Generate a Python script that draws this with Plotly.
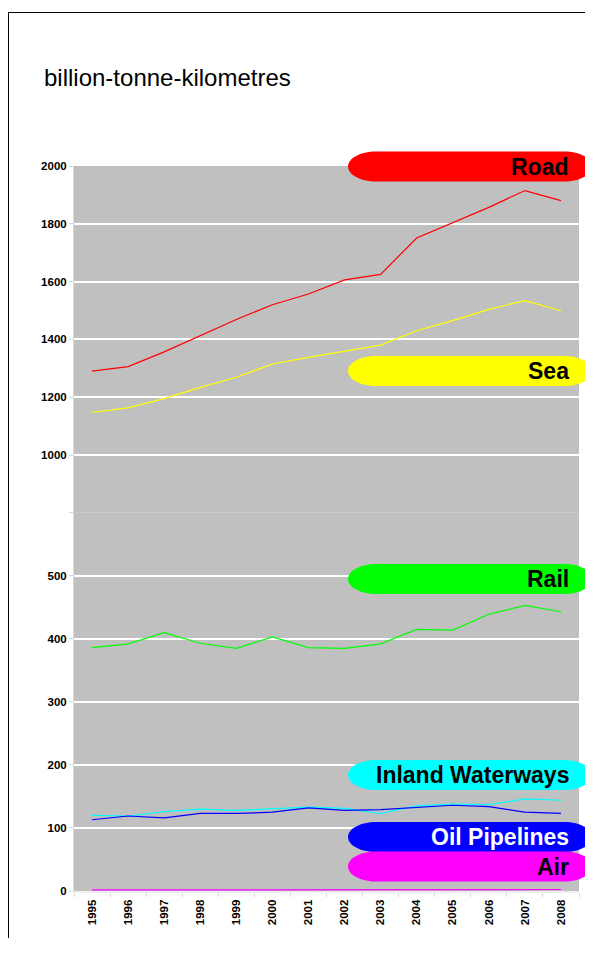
import plotly.graph_objects as go

years = [str(y) for y in range(1995, 2009)]
road = [1290, 1306, 1357, 1412, 1469, 1520, 1557, 1606, 1625, 1751, 1804, 1857, 1915, 1880]
sea = [1147, 1163, 1195, 1234, 1269, 1315, 1338, 1359, 1380, 1430, 1465, 1504, 1534, 1499]
rail = [386, 392, 410, 393, 385, 403, 386, 385, 392, 415, 414, 439, 453, 443]
inland = [120, 119, 126, 130, 128, 131, 133, 131, 123, 135, 138, 137, 146, 144]
oil = [113, 119, 116, 123, 123, 125, 132, 128, 129, 132, 136, 134, 125, 123]
air = [1.7, 1.8, 1.9, 2.0, 2.0, 2.1, 2.0, 2.0, 2.1, 2.2, 2.4, 2.5, 2.6, 2.4]

top_ticks = [800, 1000, 1200, 1400, 1600, 1800, 2000]
top_labels = ["", "1000", "1200", "1400", "1600", "1800", "2000"]
bot_ticks = [0, 100, 200, 300, 400, 500, 600]
bot_labels = ["0", "100", "200", "300", "400", "500", ""]

badges = [
    ("Road", "#ff0000", "black", 166.5),
    ("Sea", "#ffff00", "black", 371),
    ("Rail", "#00ff00", "black", 579),
    ("Inland Waterways", "#00ffff", "black", 775),
    ("Oil Pipelines", "#0000ff", "white", 837),
    ("Air", "#ff00ff", "black", 866.5),
]

# page body has an 8px margin: figure coordinates = screen coordinates - 8
OFF = 8
W, H = 593 - 2 * OFF, 930
# screen positions of plot area: left 74, right 579, top 166, bottom 891
ML, MT = 74 - OFF, 166 - OFF
MR, MB = W - (579 - OFF), H - (891 - OFF)
PW, PH = W - ML - MR, H - MT - MB


def px(xs):
    return (xs - OFF - ML) / PW


def py(ys):
    return (H - MB - (ys - OFF)) / PH


split = py(512.8)

FONT = "Arial, Liberation Sans, sans-serif"
fig = go.Figure()

series = [
    ("Road", road, "#ff0000", "y2"),
    ("Sea", sea, "#ffff00", "y2"),
    ("Rail", rail, "#00ff00", "y"),
    ("Inland Waterways", inland, "#00ffff", "y"),
    ("Oil Pipelines", oil, "#0000ff", "y"),
    ("Air", air, "#ff00ff", "y"),
]
for name, vals, col, ya in series:
    fig.add_trace(go.Scatter(x=years, y=vals, name=name, mode="lines",
                             line=dict(color=col, width=1.2), xaxis="x", yaxis=ya))

# pill-shaped badges
hw, hh, rx, k = 122, 15, 28, 0.5523
path = (
    f"M {-hw+rx},{-hh} L {hw-rx},{-hh} "
    f"C {hw-rx+k*rx},{-hh} {hw},{-k*hh} {hw},0 "
    f"C {hw},{k*hh} {hw-rx+k*rx},{hh} {hw-rx},{hh} "
    f"L {-hw+rx},{hh} "
    f"C {-hw+rx-k*rx},{hh} {-hw},{k*hh} {-hw},0 "
    f"C {-hw},{-k*hh} {-hw+rx-k*rx},{-hh} {-hw+rx},{-hh} Z"
)
shapes = []
annotations = []
for label, fill, tcol, cy in badges:
    shapes.append(dict(type="path", xref="paper", yref="paper", xsizemode="pixel",
                       ysizemode="pixel", xanchor=px(470), yanchor=py(cy), path=path,
                       fillcolor=fill, line=dict(width=0), layer="above"))
    annotations.append(dict(text=f"<b>{label}</b>", xref="paper", yref="paper",
                            x=px(571), y=py(cy), xanchor="right", yanchor="middle",
                            showarrow=False, font=dict(family=FONT, size=23, color=tcol)))

# outer frame: only left and top edges fall inside the picture
frame = dict(color="black", width=1)
shapes.append(dict(type="line", xref="paper", yref="paper", x0=px(8.5), x1=px(8.5),
                   y0=py(1000), y1=py(12.5), line=frame, layer="above"))
shapes.append(dict(type="line", xref="paper", yref="paper", x0=px(8.5), x1=px(600),
                   y0=py(12.5), y1=py(12.5), line=frame, layer="above"))

annotations.append(dict(text="billion-tonne-kilometres", xref="paper", yref="paper",
                        x=px(42), y=py(88.5), xanchor="left", yanchor="bottom",
                        yshift=-5, showarrow=False,
                        font=dict(family=FONT, size=24, color="black")))

tickfont = dict(family=FONT, size=11.5, color="black", weight="bold")
yax_common = dict(showgrid=True, gridcolor="white", gridwidth=2, zeroline=False,
                  ticks="outside", ticklen=4, tickcolor="#d8d8d8", tickwidth=1,
                  showline=True, linecolor="#d8d8d8", linewidth=1, tickfont=tickfont,
                  fixedrange=True)

fig.update_layout(
    width=W, height=H,
    margin=dict(l=ML, r=MR, t=MT, b=MB, pad=0),
    paper_bgcolor="white", plot_bgcolor="#c0c0c0",
    showlegend=False,
    font=dict(family=FONT),
    xaxis=dict(type="category", range=[-0.5, 13.5], anchor="y", tickangle=-90,
               tickfont=tickfont, ticks="outside", ticklen=4, tickcolor="#d8d8d8",
               tickson="boundaries", showline=True, linecolor="#eeeeee", linewidth=2,
               showgrid=False, ticklabelstandoff=2),
    yaxis=dict(domain=[0, split], range=[0, 600], tickvals=bot_ticks,
               ticktext=bot_labels, anchor="x", **yax_common),
    yaxis2=dict(domain=[split, 1], range=[800, 2000], tickvals=top_ticks,
                ticktext=top_labels, anchor="x", **yax_common),
    shapes=shapes,
    annotations=annotations,
)

fig.write_html("out.html")
